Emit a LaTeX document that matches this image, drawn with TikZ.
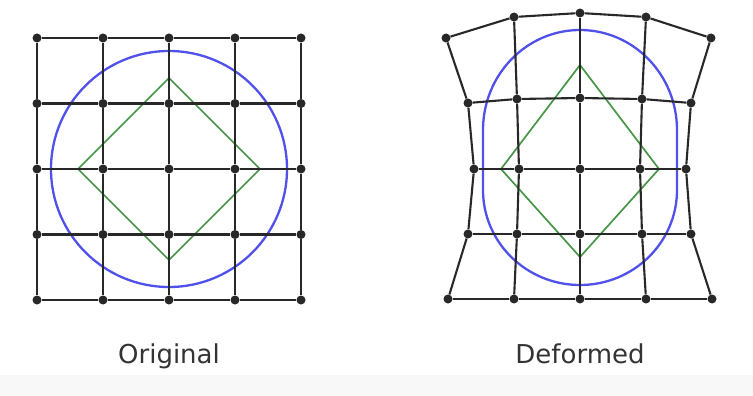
\documentclass[tikz,border=0pt]{standalone}
\usepackage{fontspec}
\setmainfont{DejaVu Sans}
\definecolor{ringblue}{RGB}{80,80,235}
\definecolor{diamgreen}{RGB}{70,150,70}
\definecolor{gridgray}{RGB}{40,40,40}
\definecolor{bandgray}{RGB}{248,248,248}

\begin{document}
\begin{tikzpicture}[
  x=1pt, y=-1pt,
  dot/.style={circle, fill=gridgray, inner sep=0pt, minimum size=9pt},
  edge/.style={draw=gridgray, line width=2.1pt},
  ring/.style={draw=ringblue, line width=2.3pt},
  diam/.style={draw=diamgreen, line width=1.7pt},
  caption/.style={anchor=base, font=\fontsize{26}{30}\selectfont, text=black!80}
]
\useasboundingbox (0,0) rectangle (753,396);
\fill[bandgray] (0,375) rectangle (753,396);

% original grid
\foreach \i in {0,...,4}{
  \foreach \j in {0,...,4}{
    \node[dot] (o-\i-\j) at ({37+66*\i}, {38+65.5*\j}) {};
  }
}

% deformed grid
\foreach \x/\y [count=\i from 0] in {446/38,514/17,580/13,646/17,711/38}
  \node[dot] (d-\i-0) at (\x,\y) {};
\foreach \x/\y [count=\i from 0] in {468/103,517/99,580/98,642/99,691/103}
  \node[dot] (d-\i-1) at (\x,\y) {};
\foreach \x/\y [count=\i from 0] in {474/169,519/169,580/169,640/169,686/169}
  \node[dot] (d-\i-2) at (\x,\y) {};
\foreach \x/\y [count=\i from 0] in {468/234,517/234,580/234,642/234,691/234}
  \node[dot] (d-\i-3) at (\x,\y) {};
\foreach \x/\y [count=\i from 0] in {448/299,514/299,580/299,646/299,712/299}
  \node[dot] (d-\i-4) at (\x,\y) {};

% shapes
\draw[ring] (o-2-2) circle[radius=118];
\draw[diam] (169,78) -- (260,169) -- (169,260) -- (78,169) -- cycle;
\draw[ring] (677,130) arc[start angle=0, end angle=-180, x radius=97, y radius=100]
  -- (483,190) arc[start angle=180, end angle=0, x radius=97, y radius=95] -- cycle;
\draw[diam] (580,65) -- (659,169) -- (580,257) -- (501,169) -- cycle;

% connectors
\foreach \g in {o,d}{
  \foreach \i in {0,...,4}{
    \foreach \j in {0,...,3}{
      \pgfmathtruncatemacro\jn{\j+1}
      \draw[edge] (\g-\i-\j) -- (\g-\i-\jn);
      \draw[edge] (\g-\j-\i) -- (\g-\jn-\i);
    }
  }
}

\node[caption] (orig) at (169,363) {Original};
\node[caption] (deform) at (580,363) {Deformed};
\end{tikzpicture}
\end{document}
